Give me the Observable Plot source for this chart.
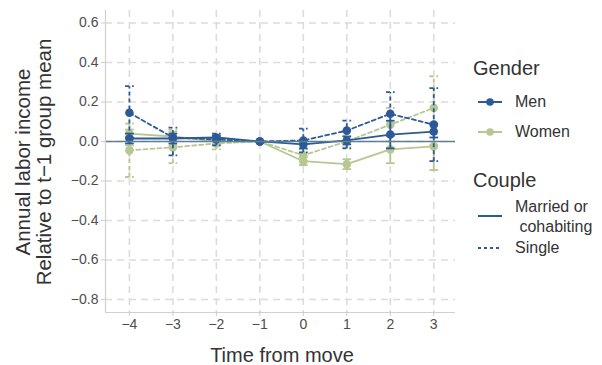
<!DOCTYPE html>
<html><head><meta charset="utf-8">
<script src="https://cdn.jsdelivr.net/npm/d3@7"></script>
<script src="https://cdn.jsdelivr.net/npm/@observablehq/plot@0.6"></script>
<style>
body{margin:0;background:#fff;font-family:"Liberation Sans",Arial,sans-serif;}
#wrap{position:relative;width:602px;height:365px;}
.lg{position:absolute;color:#333;font-size:16px;line-height:20px;white-space:nowrap;}
.lt{position:absolute;color:#333;font-size:20px;line-height:24px;white-space:nowrap;}
</style></head><body>
<div id="wrap"></div>
<script>
const times = [-4, -3, -2, -1, 0, 1, 2, 3];
const yTicks = [-0.8, -0.6, -0.4, -0.2, 0.0, 0.2, 0.4, 0.6];

const menCouple   = [0.015, 0.015, 0.02, 0, -0.015, 0.005, 0.035, 0.05];
const menCoupleLo = [-0.01, -0.01, 0.005, 0, -0.035, -0.015, -0.035, 0.02];
const menCoupleHi = [0.04, 0.04, 0.03, 0, 0.005, 0.025, 0.105, 0.09];

const menSingle   = [0.145, 0.02, 0.01, 0, 0.005, 0.055, 0.14, 0.085];
const menSingleLo = [0.02, -0.07, -0.02, 0, -0.055, -0.035, 0.03, -0.1];
const menSingleHi = [0.28, 0.07, 0.04, 0, 0.065, 0.105, 0.25, 0.27];

const womenCouple   = [0.04, 0.025, 0.0, 0, -0.1, -0.115, -0.04, -0.025];
const womenCoupleLo = [-0.02, -0.02, -0.015, 0, -0.12, -0.14, -0.11, -0.145];
const womenCoupleHi = [0.06, 0.05, 0.02, 0, -0.08, -0.09, 0.03, 0.09];

const womenSingle   = [-0.045, -0.03, -0.01, 0, -0.07, 0.0, 0.085, 0.17];
const womenSingleLo = [-0.18, -0.11, -0.04, 0, -0.1, -0.03, 0.0, -0.02];
const womenSingleHi = [0.09, 0.06, 0.02, 0, -0.04, 0.03, 0.17, 0.33];

const genders = ["Men", "Women"];
const couples = ["Married or cohabiting", "Single"];
const colors = {Men: "#2d5a97", Women: "#b7c792"};

const seriesDefs = [
  {gender: "Men", couple: "Married or cohabiting", v: menCouple, lo: menCoupleLo, hi: menCoupleHi},
  {gender: "Men", couple: "Single", v: menSingle, lo: menSingleLo, hi: menSingleHi},
  {gender: "Women", couple: "Married or cohabiting", v: womenCouple, lo: womenCoupleLo, hi: womenCoupleHi},
  {gender: "Women", couple: "Single", v: womenSingle, lo: womenSingleLo, hi: womenSingleHi}
];
const rows = seriesDefs.flatMap(s => times.map((t, i) => ({
  t, y: s.v[i], lo: s.lo[i], hi: s.hi[i], gender: s.gender, couple: s.couple,
  key: s.gender + "|" + s.couple
})));
const order = ["Women|Single", "Women|Married or cohabiting", "Men|Single", "Men|Married or cohabiting"];
const marks = [];
marks.push(Plot.gridX(times, {stroke: "#dcdcdc", strokeOpacity: 1, strokeWidth: 1.6, strokeDasharray: "7,5"}));
marks.push(Plot.gridY(yTicks, {stroke: "#dcdcdc", strokeOpacity: 1, strokeWidth: 1.6, strokeDasharray: "7,5"}));
for (const k of order) {
  const d = rows.filter(r => r.key === k);
  const g = d[0].gender, single = d[0].couple === "Single";
  const dash = single ? "4,3" : null;
  const c = colors[g];
  marks.push(Plot.line(d, {x: "t", y: "y", stroke: c, strokeWidth: 1.8, strokeDasharray: dash}));
  marks.push(Plot.link(d, {x1: "t", x2: "t", y1: "lo", y2: "hi", stroke: c, strokeWidth: 1.8, strokeDasharray: dash}));
  marks.push(Plot.link(d, {x1: r => r.t - 0.1, x2: r => r.t + 0.1, y1: "lo", y2: "lo", stroke: c, strokeWidth: 1.8, strokeDasharray: dash}));
  marks.push(Plot.link(d, {x1: r => r.t - 0.1, x2: r => r.t + 0.1, y1: "hi", y2: "hi", stroke: c, strokeWidth: 1.8, strokeDasharray: dash}));
  marks.push(Plot.dot(d, {x: "t", y: "y", fill: c, r: 4.3}));
}
marks.push(Plot.ruleY([0], {stroke: "#5d7f8e", strokeWidth: 1.5}));
marks.push(Plot.ruleX([-4.55], {stroke: "#d0d0d0", strokeWidth: 1.2}));
marks.push(Plot.ruleY([-0.866], {stroke: "#d0d0d0", strokeWidth: 1.2}));
marks.push(Plot.axisX(times, {tickSize: 4, tickPadding: 3, stroke: "#cccccc", fill: "#4d4d4d",
  tickFormat: d => d < 0 ? "\u2212" + Math.abs(d) : String(d), label: null}));
marks.push(Plot.axisY(yTicks, {tickSize: 4, tickPadding: 3, stroke: "#cccccc", fill: "#4d4d4d",
  tickFormat: d => (d < 0 ? "\u2212" : "") + Math.abs(d).toFixed(1), label: null}));

const chart = Plot.plot({
  width: 602, height: 365,
  marginLeft: 105, marginRight: 147, marginTop: 10, marginBottom: 53,
  x: {domain: [-4.55, 3.5]},
  y: {domain: [-0.866, 0.663]},
  style: {background: "#fff", fontFamily: "'Liberation Sans', Arial, sans-serif", overflow: "visible"},
  marks
});
// enlarge tick labels to match reference
chart.querySelectorAll("text").forEach(t => { t.style.fontSize = "14px"; });
const wrap = document.getElementById("wrap");
wrap.appendChild(chart);

function add(html, cls, left, top) {
  const el = document.createElement("div");
  el.className = cls; el.style.left = left + "px"; el.style.top = top + "px";
  el.innerHTML = html; wrap.appendChild(el); return el;
}
// axis titles
const xt = add("Time from move", "lt", 0, 343);
xt.style.width = "564px"; xt.style.textAlign = "center";
const yt = document.createElement("div");
yt.style.cssText = "position:absolute;left:33px;top:162px;transform:translate(-50%,-50%) rotate(-90deg);white-space:nowrap;text-align:center;line-height:21px;font-size:20.5px;color:#333;";
yt.innerHTML = "Annual labor income<br>Relative to t\u22121 group mean";
wrap.appendChild(yt);

// legend
add("Gender", "lt", 473, 56);
function glyph(color, dash, dot, top) {
  return `<svg width="30" height="14" style="position:absolute;left:-40px;top:${top}px"><line x1="3" x2="27" y1="7" y2="7" stroke="${color}" stroke-width="2" ${dash ? 'stroke-dasharray="3,3"' : ''}/>${dot ? `<circle cx="15" cy="7" r="3.8" fill="${color}"/>` : ''}</svg>`;
}
add(glyph(colors.Men, false, true, 3) + genders[0], "lg", 515, 92);
add(glyph(colors.Women, false, true, 3) + genders[1], "lg", 515, 122);
add("Couple", "lt", 473, 168);
add(glyph(colors.Men, false, false, 12) + "Married or<br>&nbsp;cohabiting", "lg", 515, 197);
add(glyph(colors.Men, true, false, 3) + couples[1], "lg", 515, 238);
</script>
</body></html>
